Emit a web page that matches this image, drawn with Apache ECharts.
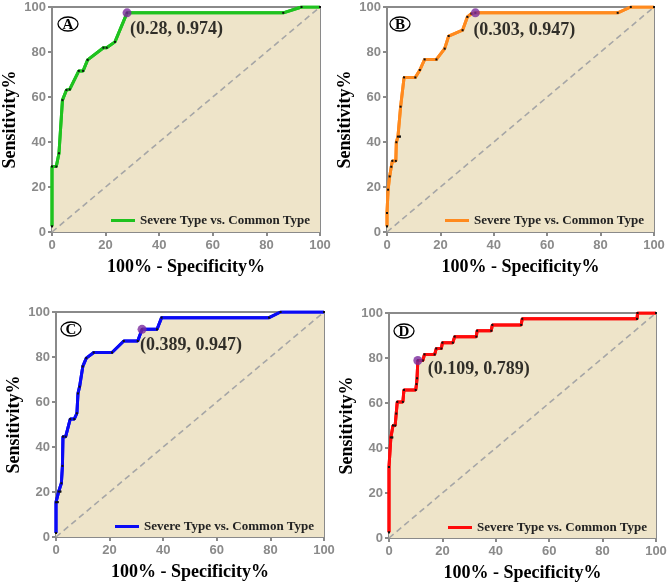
<!DOCTYPE html>
<html><head><meta charset="utf-8">
<script src="https://cdn.jsdelivr.net/npm/echarts@6/dist/echarts.min.js"></script>
<style>
html,body{margin:0;padding:0;background:#fff;width:669px;height:585px;overflow:hidden;position:relative}
.p{position:absolute}
</style></head><body>
<div id="pA" class="p" style="left:0;top:0;width:334px;height:290px"></div>
<div id="pB" class="p" style="left:335px;top:0;width:334px;height:290px"></div>
<div id="pC" class="p" style="left:0;top:290px;width:335px;height:295px"></div>
<div id="pD" class="p" style="left:335px;top:290px;width:334px;height:295px"></div>
<script>
// ---- data ----
const seriesName = 'Severe Type vs. Common Type';
const xTicks = [0, 20, 40, 60, 80, 100];

const fprA = [0, 0, 1.6, 2.6, 3.9, 5.4, 6.6, 10.0, 11.6, 13.3, 19.2, 20.4, 23.5, 28.0, 86.3, 93.1, 100];
const tprA = [2.6, 29.1, 29.1, 35, 58.6, 63.1, 63.4, 71.6, 71.6, 76.5, 81.9, 81.9, 84.5, 97.4, 97.4, 100, 100];

const fprB = [0, 0, 0.4, 1, 1.6, 2, 3.3, 3.5, 4.1, 4.8, 5.1, 6.4, 10.6, 12.3, 14.1, 18.5, 21.6, 23.1, 28.3, 30.1, 31.6, 33.1, 86.4, 91.3, 100];
const tprB = [2.6, 8.4, 18.8, 24.7, 29, 31.6, 31.6, 39.9, 42.4, 42.4, 55.7, 68.7, 68.7, 72, 76.7, 76.7, 81.5, 87.1, 89.7, 95.6, 97, 97.4, 97.4, 100, 100];

const fprC = [0, 0, 0.6, 1, 1.6, 2, 2.4, 2.6, 3.6, 5.3, 6.8, 7.8, 8.2, 8.8, 10.0, 11.3, 14.1, 20.9, 25.3, 30.5, 32.1, 37.7, 39.4, 79.5, 83.8, 100];
const tprC = [1.8, 15.5, 15.5, 20.2, 20.2, 23.9, 31.6, 44.6, 44.6, 52.4, 52.4, 55, 63.8, 66.8, 75.8, 79.5, 82, 82, 87.1, 87.1, 92.3, 92.3, 97.5, 97.5, 100, 100];

const fprD = [0, 0, 0.7, 1.2, 1.5, 2.3, 2.7, 3.1, 5.2, 5.6, 10, 10.3, 10.5, 10.8, 12.7, 13.3, 17.1, 17.7, 19.6, 20, 23.9, 24.6, 32.7, 33, 38.3, 38.7, 49.5, 49.9, 92.9, 93.1, 100];
const tprD = [2.6, 31.6, 44.7, 44.7, 50, 50, 55.3, 60.5, 60.5, 65.8, 65.8, 68.4, 71, 78.9, 78.9, 81.6, 81.6, 84.2, 84.2, 86.8, 86.8, 89.5, 89.5, 92.1, 92.1, 94.7, 94.7, 97.4, 97.4, 100, 100];

const cutX = [28.0, 33.1, 32.1, 10.8];
const cutY = [97.4, 97.4, 92.3, 78.9];
const cutLabels = ['(0.28, 0.974)', '(0.303, 0.947)', '(0.389, 0.947)', '(0.109, 0.789)'];
const panelLetters = ['A', 'B', 'C', 'D'];
const lineColors = ['#1FC21F', '#FF8A1E', '#0A0AF5', '#FF0A0A'];

// ---- layout ----
const panels = [
  {id:'pA', fpr:fprA, tpr:tprA, grid:{left:52, top:7, width:268, height:225}, legend:{left:106, top:209}, lab:[3,16], circ:[68,24]},
  {id:'pB', fpr:fprB, tpr:tprB, grid:{left:52, top:7, width:267, height:225}, legend:{left:105, top:209}, lab:[-2,17], circ:[65,24]},
  {id:'pC', fpr:fprC, tpr:tprC, grid:{left:56, top:22, width:268, height:225}, legend:{left:110, top:225}, lab:[-2,16], circ:[71,39]},
  {id:'pD', fpr:fprD, tpr:tprD, grid:{left:54, top:23, width:267, height:225}, legend:{left:108, top:226}, lab:[10,9], circ:[69,41]}
];

const gray = '#8a8a8a';
const serif = '"Liberation Serif", "Times New Roman", serif';
const sans = '"Liberation Sans", Arial, sans-serif';

panels.forEach((p, i) => {
  const chart = echarts.init(document.getElementById(p.id), null, {renderer:'canvas'});
  const curve = p.fpr.map((x, k) => [x, p.tpr[k]]);
  const axisCommon = {
    type:'value', min:0, max:100, interval:20,
    nameLocation:'middle', nameMoveOverlap:false,
    nameTextStyle:{fontFamily:serif, fontWeight:'bold', fontSize:18, color:'#000'},
    axisLine:{show:true, lineStyle:{color:gray, width:2}},
    axisTick:{show:true, length:4, lineStyle:{color:gray, width:2}},
    axisLabel:{color:gray, fontFamily:sans, fontWeight:'bold', fontSize:13},
    splitLine:{show:false}
  };
  chart.setOption({
    animation:false,
    grid:Object.assign({show:true, borderColor:gray, borderWidth:2, backgroundColor:'#fff',
      containLabel:false, outerBoundsMode:'none'}, p.grid),
    xAxis:Object.assign({}, axisCommon, {name:'100% - Specificity%', nameGap:26,
      axisLabel:Object.assign({}, axisCommon.axisLabel, {margin:7})}),
    yAxis:Object.assign({}, axisCommon, {name:'Sensitivity%', nameGap:33,
      axisLabel:Object.assign({}, axisCommon.axisLabel, {margin:6})}),
    legend:{
      left:p.legend.left, top:p.legend.top, itemWidth:24, itemHeight:3, itemGap:5,
      data:[{name:seriesName, icon:'rect', itemStyle:{color:lineColors[i], borderWidth:0}}],
      textStyle:{fontFamily:serif, fontWeight:'bold', fontSize:13, color:'#222'}
    },
    graphic:[
      {type:'ellipse', shape:{cx:p.circ[0], cy:p.circ[1], rx:10, ry:7}, style:{fill:'#fff', stroke:'#000', lineWidth:1.3}, z:10},
      {type:'text', x:p.circ[0], y:p.circ[1]+1, style:{text:panelLetters[i], fill:'#000', font:'bold 15px ' + serif, textAlign:'center', textVerticalAlign:'middle'}, z:11}
    ],
    series:[
      {
        name:seriesName, type:'line', data:curve, z:2,
        symbol:'rect', symbolSize:2, showSymbol:true,
        itemStyle:{color:'#111'},
        lineStyle:{color:lineColors[i], width:3},
        areaStyle:{color:'#EEE4C9', opacity:1, origin:'start'}
      },
      {
        type:'line', data:[[0,0],[100,100]], z:3, symbol:'none', silent:true,
        lineStyle:{color:'#a6a6a6', width:1.6, type:[6,4]}
      },
      {
        name:seriesName, type:'line', data:curve, z:4,
        symbol:'rect', symbolSize:2, showSymbol:true,
        itemStyle:{color:'#111'},
        lineStyle:{color:lineColors[i], width:3}
      },
      {
        type:'scatter', data:[[cutX[i], cutY[i]]], z:5, symbolSize:9,
        itemStyle:{color:'#7B2C9E'},
        label:{show:true, position:'right', distance:0, offset:[p.lab[0] - 4.5, p.lab[1]],
          formatter:cutLabels[i], color:'#000', textBorderWidth:0,
          fontFamily:serif, fontWeight:'bold', fontSize:18}
      }
    ]
  });
});
</script>
</body></html>
